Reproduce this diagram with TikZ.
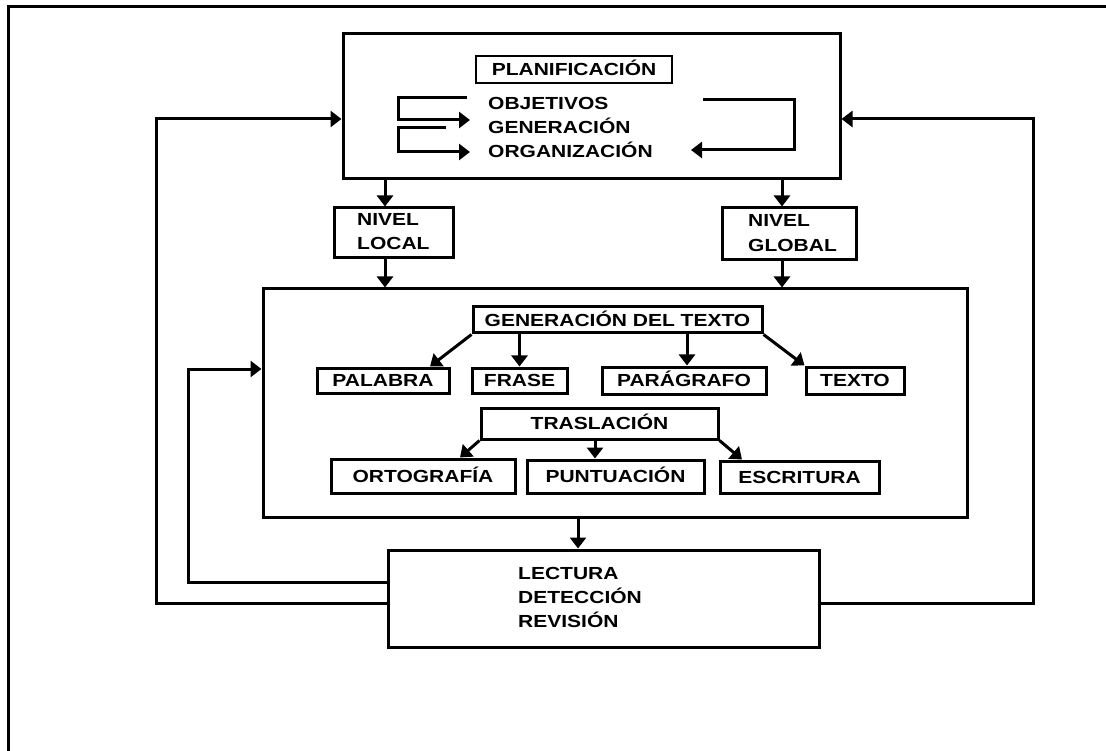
\documentclass[tikz,border=0pt]{standalone}
\usepackage{fontspec}
\usetikzlibrary{arrows.meta}
\newfontfamily\df[FakeStretch=1.2]{Liberation Sans Bold}
\begin{document}
\begin{tikzpicture}[x=1pt,y=-1pt,
  ln/.style={line width=3pt},
  arr/.style={line width=3pt,-{Triangle[width=16pt,length=11pt]}},
  box/.style={draw,line width=3pt,inner sep=0pt,font=\df\fontsize{17.5}{20}\selectfont,text height=12.5pt,text depth=0pt},
  lbl/.style={inner sep=0pt,anchor=base west,font=\df\fontsize{17.5}{20}\selectfont}]
\clip (0,0) rectangle (1106,751);
\fill[white] (0,0) rectangle (1106,751);
% outer frame (left and top)
\draw[ln] (8,760) -- (8,7) -- (1115,7);
% top block
\node[box,minimum width=497pt,minimum height=145pt] (plan) at (591.5,106.5) {};
\node[box,line width=2.5pt,minimum width=196pt,minimum height=27pt] (planif) at (574,69.5) {PLANIFICACIÓN};
\node[lbl] (obj) at (488,110) {OBJETIVOS};
\node[lbl] (genr) at (488,134) {GENERACIÓN};
\node[lbl] (org) at (488,158) {ORGANIZACIÓN};
\coordinate (b1s) at (467,98);
\coordinate (b1e) at (470,120);
\coordinate (b2s) at (446,128);
\coordinate (b2e) at (470,152);
\coordinate (b3s) at (703,100);
\coordinate (b3e) at (691,150);
\draw[arr] (b1s) -- (398,98) -- (398,120) -- (b1e);
\draw[arr] (b2s) -- (398,128) -- (398,152) -- (b2e);
\draw[arr] (b3s) -- (794,100) -- (794,150) -- (b3e);
% level boxes
\node[box,minimum width=119pt,minimum height=50pt] (nl) at (393.5,233) {};
\node[lbl] (nl1) at (357,226) {NIVEL};
\node[lbl] (nl2) at (357,250) {LOCAL};
\node[box,minimum width=134pt,minimum height=52pt] (ng) at (789,234) {};
\node[lbl] (ng1) at (748,227) {NIVEL};
\node[lbl] (ng2) at (748,252) {GLOBAL};
\draw[arr] ([xshift=-8.5pt]nl.north |- plan.south) -- ([xshift=-8.5pt]nl.north);
\draw[arr] ([xshift=-7pt]ng.north |- plan.south) -- ([xshift=-7pt]ng.north);
% middle block
\node[box,minimum width=704pt,minimum height=228pt] (mid) at (615,403) {};
\draw[arr] ([xshift=-8.5pt]nl.south) -- ([xshift=-8.5pt]nl.south |- mid.north);
\draw[arr] ([xshift=-7pt]ng.south) -- ([xshift=-7pt]ng.south |- mid.north);
\node[box,minimum width=289pt,minimum height=26pt] (gen) at (617.5,320) {GENERACIÓN DEL TEXTO};
\node[box,minimum width=132pt,minimum height=25pt] (pal) at (383,380.5) {PALABRA};
\node[box,minimum width=95pt,minimum height=25pt] (fra) at (519.5,380.5) {FRASE};
\node[box,minimum width=164pt,minimum height=27pt] (par) at (684,380.5) {PARÁGRAFO};
\node[box,minimum width=98pt,minimum height=27pt] (tex) at (855,380.5) {TEXTO};
\draw[arr] (gen.south west) -- ([xshift=47pt]pal.north);
\draw[arr] (fra.north |- gen.south) -- (fra.north);
\draw[arr] ([xshift=3pt]par.north |- gen.south) -- ([xshift=3pt]par.north);
\draw[arr] (gen.south east) -- (tex.north west);
\node[box,minimum width=237pt,minimum height=31pt] (tras) at (599.5,423.5) {TRASLACIÓN};
\node[box,minimum width=184pt,minimum height=34pt] (orto) at (423,476) {ORTOGRAFÍA};
\node[box,minimum width=177pt,minimum height=33pt] (punt) at (615.5,476.5) {PUNTUACIÓN};
\node[box,minimum width=159pt,minimum height=32pt] (escr) at (799.5,477) {ESCRITURA};
\draw[arr] (tras.south west) -- ([xshift=37pt]orto.north);
\draw[arr] ([xshift=-4.5pt]tras.south) -- ([xshift=-4.5pt]tras.south |- punt.north);
\draw[arr] (tras.south east) -- ([xshift=-57.5pt]escr.north);
% bottom block
\node[box,minimum width=431pt,minimum height=97pt] (lec) at (603.5,598.5) {};
\node[lbl] (lec1) at (518,579) {LECTURA};
\node[lbl] (lec2) at (518,603) {DETECCIÓN};
\node[lbl] (lec3) at (518,627) {REVISIÓN};
\draw[arr] ([xshift=-37pt]mid.south) -- ([xshift=-37pt]mid.south |- lec.north);
% feedback loops
\draw[arr] ([yshift=-4.5pt]lec.west) -- ++(-230,0) |- ([yshift=-12.5pt]plan.west);
\draw[arr] ([yshift=16.5pt]lec.west) -- ++(-198,0) |- ([yshift=34pt]mid.west);
\draw[arr] ([yshift=-4.5pt]lec.east) -- ++(213,0) |- ([yshift=-12.5pt]plan.east);
\end{tikzpicture}
\end{document}
